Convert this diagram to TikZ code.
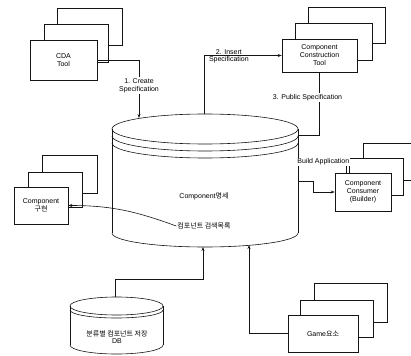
\documentclass[tikz,border=0pt]{standalone}
\usepackage{fontspec}
\setmainfont{Liberation Sans}
\newfontfamily\krfont{Noto Sans CJK KR}
\usetikzlibrary{arrows.meta, calc, positioning}
\definecolor{linecol}{RGB}{20, 20, 20}
\tikzset{
  card/.style = {draw=linecol, fill=white, align=center, inner sep=1pt,
                 font=\fontsize{7}{8}\selectfont, line width=0.6pt},
  lbl/.style  = {font=\fontsize{7}{8}\selectfont, inner sep=1pt, align=center},
  flow/.style = {-{Stealth[length=4pt, width=3pt]}, draw=linecol, line width=0.6pt},
  link/.style = {draw=linecol, line width=0.6pt},
  disk/.style = {draw=linecol, line width=0.6pt},
}

\begin{document}
\begin{tikzpicture}[x=1pt, y=-1pt]
  \useasboundingbox (0,0) rectangle (411,355);

  %% ---------------- the repository ----------------
  \draw[disk] (205,129) ellipse [x radius=93pt, y radius=15pt];
  \draw[disk] (112,136) arc [start angle=180, end angle=360, x radius=93pt, y radius=15pt];
  \draw[disk] (112,143) arc [start angle=180, end angle=360, x radius=93pt, y radius=15pt];
  \draw[disk] (112,129) -- (112,233);
  \draw[disk] (298,129) -- (298,233);
  \draw[disk] (112,233) arc [start angle=180, end angle=360, x radius=93pt, y radius=14pt];
  \node[lbl] (repo) at (204,196) {Component{\krfont 명세}};
  \node[lbl] (srch) at (204,226) {\krfont 컴포넌트 검색목록};
  \coordinate (r-top1) at (139,118);
  \coordinate (r-top2) at (204,114);
  \coordinate (r-right1) at (298,135);
  \coordinate (r-right2) at (298,162);
  \coordinate (r-right3) at (298,181);
  \coordinate (r-bot1) at (203,247);
  \coordinate (r-bot2) at (249,245);

  %% ---------------- the DB ----------------
  \draw[disk] (116.5,306) ellipse [x radius=46.5pt, y radius=9pt];
  \draw[disk] (70,310) arc [start angle=180, end angle=360, x radius=46.5pt, y radius=8pt];
  \draw[disk] (70,306) -- (70,345);
  \draw[disk] (163,306) -- (163,345);
  \draw[disk] (70,345) arc [start angle=180, end angle=360, x radius=46.5pt, y radius=9pt];
  \node[lbl] (db) at (117,337) {{\krfont 분류별 컴포넌트 저장}\\[-1pt]DB};
  \coordinate (db-top) at (115,297);

  %% ---------------- the stacks ----------------
  \node[card, minimum width=65pt, minimum height=37pt] (cda3) at (89.5,26.5) {};
  \node[card, minimum width=64pt, minimum height=38pt] (cda2) at (76,43) {};
  \node[card, minimum width=67pt, minimum height=40pt] (cda1) at (63.5,60) {CDA\\Tool};

  \node[card, minimum width=77pt, minimum height=36pt] (cct3) at (346.5,25) {};
  \node[card, minimum width=77pt, minimum height=37pt] (cct2) at (333.5,41.5) {};
  \node[card, minimum width=75pt, minimum height=33pt] (cct1) at (319.5,55.5)
       {Component\\Construction\\Tool};

  \node[card, minimum width=55pt, minimum height=38pt] (cmp3) at (69.5,174) {};
  \node[card, minimum width=54pt, minimum height=35pt] (cmp2) at (55,189.5) {};
  \node[card, minimum width=54pt, minimum height=37pt] (cmp1) at (41,205.5)
       {Component\\{\krfont 구현}};

  \node[card, minimum width=62pt, minimum height=37pt] (cons3) at (394,161.5) {};
  \node[card, minimum width=54pt, minimum height=37pt] (cons2) at (376,176.5) {};
  \node[card, minimum width=56pt, minimum height=38pt] (cons1) at (363,192)
       {Component\\Consumer\\(Builder)};

  \node[card, minimum width=73pt, minimum height=39pt] (game3) at (350.5,302.5) {};
  \node[card, minimum width=73pt, minimum height=37pt] (game2) at (336.5,318.5) {};
  \node[card, minimum width=70pt, minimum height=37pt] (game1) at (323,333.5)
       {Game{\krfont 요소}};

  %% ---------------- edges ----------------
  \draw[flow] (cda1.east) -| (r-top1)
       node[lbl, fill=white, pos=0.72] {1. Create\\Specification};
  \draw[flow] (r-top2) |- (cct1.west)
       node[lbl, above, pos=0.66] {2. Insert}
       node[lbl, below, pos=0.66] {Specification};
  \draw[link] (cct1.south) |- (r-right1)
       node[lbl, fill=white, pos=0.2, xshift=-12pt] {3. Public Specification};
  \draw[flow] ($(cons1.north west)+(12,0)$) |- (r-right2)
       node[lbl, fill=white, pos=0.74] {Build Application};
  \draw[flow] (r-right3) -- ++(15,0) |- (cons1.west);
  \draw[flow] (srch.west) to[out=160, in=0] (cmp1.east);
  \draw[flow] (db-top) |- ($(r-bot1)+(0,32)$) -- (r-bot1);
  \draw[flow] (game1.west) -| (r-bot2);

\end{tikzpicture}
\end{document}
